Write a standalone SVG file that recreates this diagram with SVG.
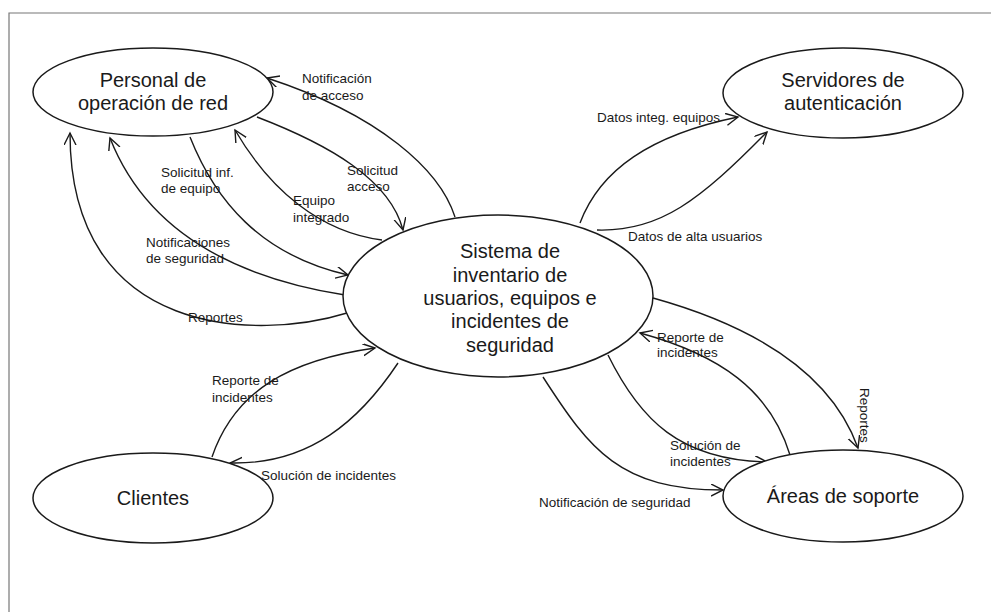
<svg xmlns="http://www.w3.org/2000/svg" width="991" height="612" viewBox="0 0 991 612">
<defs>
<marker id="arr" markerUnits="userSpaceOnUse" markerWidth="16" markerHeight="14" refX="12" refY="6" orient="auto">
<path d="M0,0 L12,6 L0,12" fill="none" stroke="#1a1a1a" stroke-width="1.4"/>
</marker>
</defs>
<style>
.node{fill:#fff;stroke:#1a1a1a;stroke-width:1.5}
.big{font-family:"Liberation Sans",Arial,sans-serif;font-size:20px;fill:#1a1a1a;text-anchor:middle}
.lbl{font-family:"Liberation Sans",Arial,sans-serif;font-size:13.5px;fill:#1a1a1a}
.edge{fill:none;stroke:#1a1a1a;stroke-width:1.4;marker-end:url(#arr)}
.frame{stroke:#777;stroke-width:1.2;fill:none}
</style>
<rect width="991" height="612" fill="#fff"/>
<path class="frame" d="M9,612 L9,13 L991,13"/>
<g id="connectors">
<path class="edge" d="M455,217 C440,170 380,115 267,78"/>
<path class="edge" d="M257,117 C330,145 390,180 403,230"/>
<path class="edge" d="M382,240 C320,232 270,190 235,130"/>
<path class="edge" d="M190,137 C215,200 260,255 348,275"/>
<path class="edge" d="M345,295 C250,280 150,240 110,138"/>
<path class="edge" d="M347,313 C260,340 70,340 70,133"/>
<path class="edge" d="M580,223 C600,170 650,135 738,117"/>
<path class="edge" d="M597,230 C660,232 700,200 767,132"/>
<path class="edge" d="M653,298 C750,325 830,370 858,448"/>
<path class="edge" d="M790,455 C770,390 720,355 640,333"/>
<path class="edge" d="M608,355 C640,420 680,460 767,462"/>
<path class="edge" d="M543,377 C590,450 620,490 723,490"/>
<path class="edge" d="M212,457 C235,390 290,360 375,348"/>
<path class="edge" d="M398,363 C360,420 310,465 230,463"/>
</g>
<g id="labels">
<text class="lbl" x="302" y="83">Notificación</text>
<text class="lbl" x="302" y="100">de acceso</text>
<text class="lbl" x="161" y="177">Solicitud inf.</text>
<text class="lbl" x="161" y="193">de equipo</text>
<text class="lbl" x="347" y="175">Solicitud</text>
<text class="lbl" x="347" y="191">acceso</text>
<text class="lbl" x="293" y="205">Equipo</text>
<text class="lbl" x="293" y="222">integrado</text>
<text class="lbl" x="146" y="247">Notificaciones</text>
<text class="lbl" x="146" y="263">de seguridad</text>
<text class="lbl" x="188" y="322">Reportes</text>
<text class="lbl" x="597" y="122">Datos integ. equipos</text>
<text class="lbl" x="628" y="241">Datos de alta usuarios</text>
<text class="lbl" x="212" y="385">Reporte de</text>
<text class="lbl" x="212" y="402">incidentes</text>
<text class="lbl" x="261" y="480">Solución de incidentes</text>
<text class="lbl" x="657" y="342">Reporte de</text>
<text class="lbl" x="657" y="357">incidentes</text>
<text class="lbl" transform="translate(860,388) rotate(90)">Reportes</text>
<text class="lbl" x="670" y="450">Solución de</text>
<text class="lbl" x="670" y="466">incidentes</text>
<text class="lbl" x="539" y="507">Notificación de seguridad</text>
</g>
<g id="personal">
<ellipse class="node" cx="153" cy="92" rx="120" ry="44"/>
<text class="big" x="153" y="87">Personal de</text>
<text class="big" x="153" y="110">operación de red</text>
</g>
<g id="servidores">
<ellipse class="node" cx="843" cy="93" rx="120" ry="45"/>
<text class="big" x="843" y="87">Servidores de</text>
<text class="big" x="843" y="110">autenticación</text>
</g>
<g id="sistema">
<ellipse class="node" cx="498" cy="296" rx="155" ry="81"/>
<text class="big" x="510" y="258">Sistema de</text>
<text class="big" x="510" y="282">inventario de</text>
<text class="big" x="510" y="305">usuarios, equipos e</text>
<text class="big" x="510" y="328">incidentes de</text>
<text class="big" x="510" y="352">seguridad</text>
</g>
<g id="clientes">
<ellipse class="node" cx="153" cy="498" rx="120" ry="45"/>
<text class="big" x="153" y="505">Clientes</text>
</g>
<g id="areas">
<ellipse class="node" cx="843" cy="496" rx="120" ry="46"/>
<text class="big" x="843" y="503">Áreas de soporte</text>
</g>
</svg>
